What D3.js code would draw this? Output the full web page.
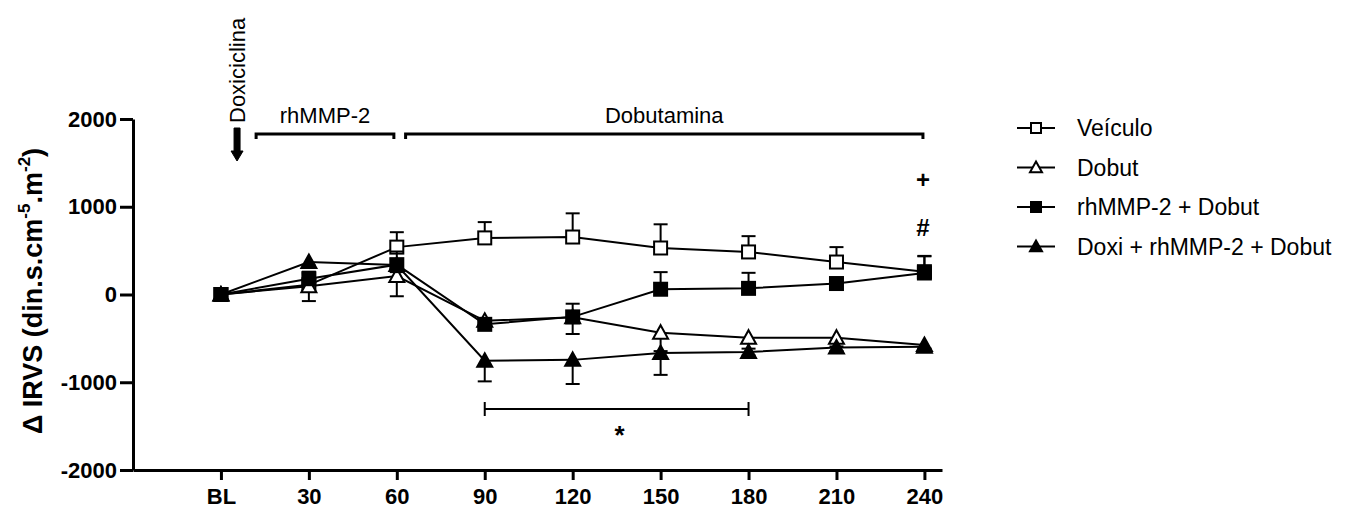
<!DOCTYPE html>
<html>
<head>
<meta charset="utf-8">
<script src="https://cdn.jsdelivr.net/npm/d3@7"></script>
<style>
  body { margin: 0; background: #fff; }
  text { font-family: "Liberation Sans", Arial, Helvetica, sans-serif; fill: #000; }
</style>
</head>
<body>
<div id="vis"></div>
<script>
// frame
const FRAME_WIDTH = 1354;
const FRAME_HEIGHT = 511;

// data (minutes, BL = 0)
const times = [0, 30, 60, 90, 120, 150, 180, 210, 240];
const tickLabels = ["BL", "30", "60", "90", "120", "150", "180", "210", "240"];
const yTicks = [-2000, -1000, 0, 1000, 2000];

const veiculo    = [0, 110, 540, 645, 655, 530, 485, 370, 260];
const veiculoErr = [0, 130, 170, 180, 270, 270, 180, 170, 180];
const dobut      = [0, 95, 210, -300, -260, -435, -492, -492, -575];
const dobutErr   = [0, 170, 230, 60, 190, 210, 125, 100, 40];
const rhmmp      = [0, 180, 340, -340, -255, 60, 70, 125, 245];
const rhmmpErr   = [0, 80, 150, 70, 150, 195, 177, 60, 190];
const doxi       = [0, 370, 335, -755, -745, -666, -655, -605, -595];
const doxiErr    = [0, 40, 80, 235, 275, 250, 40, 40, 30];

const seriesNames = ["Veículo", "Dobut", "rhMMP-2 + Dobut", "Doxi + rhMMP-2 + Dobut"];

const series = [
  {name: seriesNames[0], vals: veiculo, err: veiculoErr, shape: "square", fill: "#fff", dir: 1},
  {name: seriesNames[1], vals: dobut, err: dobutErr, shape: "triangle", fill: "#fff", dir: -1},
  {name: seriesNames[2], vals: rhmmp, err: rhmmpErr, shape: "square", fill: "#000", dir: 1},
  {name: seriesNames[3], vals: doxi, err: doxiErr, shape: "triangle", fill: "#000", dir: -1}
];

const svg = d3.select("#vis")
  .append("svg")
    .attr("width", FRAME_WIDTH)
    .attr("height", FRAME_HEIGHT);

// scales
const X_SCALE = d3.scaleLinear().domain([-30, 246]).range([133, 942]);
const Y_SCALE = d3.scaleLinear().domain([-2000, 2000]).range([470, 119]);

// axes
const xAxis = svg.append("g")
  .attr("transform", "translate(0," + Y_SCALE(-2000) + ")")
  .call(d3.axisBottom(X_SCALE)
    .tickValues(times)
    .tickFormat((d, i) => tickLabels[i])
    .tickSize(10)
    .tickSizeOuter(0));
xAxis.select(".domain").attr("stroke-width", 3);
xAxis.selectAll(".tick line").attr("stroke-width", 3);
xAxis.selectAll(".tick text")
  .attr("font-size", "22px").attr("font-weight", "bold")
  .attr("font-family", "Liberation Sans, Arial, sans-serif")
  .attr("y", 18);

const yAxis = svg.append("g")
  .attr("transform", "translate(" + X_SCALE(-30) + ",0)")
  .call(d3.axisLeft(Y_SCALE)
    .tickValues(yTicks)
    .tickFormat(d => String(d))
    .tickSize(13)
    .tickSizeOuter(0));
yAxis.select(".domain").attr("stroke-width", 3);
yAxis.selectAll(".tick line").attr("stroke-width", 3);
yAxis.selectAll(".tick text")
  .attr("font-size", "22px").attr("font-weight", "bold")
  .attr("font-family", "Liberation Sans, Arial, sans-serif")
  .attr("x", -16);

// y label
const yLab = svg.append("text")
  .attr("transform", "translate(42,291) rotate(-90)")
  .attr("text-anchor", "middle")
  .attr("font-size", "27px")
  .attr("font-weight", "bold");
yLab.append("tspan").text("Δ IRVS (din.s.cm");
yLab.append("tspan").attr("font-size", "17px").attr("dy", -12).text("-5");
yLab.append("tspan").attr("dy", 12).text(".m");
yLab.append("tspan").attr("font-size", "17px").attr("dy", -12).text("-2");
yLab.append("tspan").attr("dy", 12).text(")");

// markers
function marker(g, shape, fill, r) {
  if (shape === "square") {
    g.append("rect").attr("x", -r).attr("y", -r).attr("width", 2 * r).attr("height", 2 * r)
      .attr("fill", fill).attr("stroke", "#000").attr("stroke-width", 2);
  } else {
    const t = r + 1;
    g.append("path").attr("d", "M0," + (-t) + "L" + t + "," + (t * 0.8) + "L" + (-t) + "," + (t * 0.8) + "Z")
      .attr("fill", fill).attr("stroke", "#000").attr("stroke-width", 2);
  }
}

const line = d3.line()
  .x((d, i) => X_SCALE(times[i]))
  .y(d => Y_SCALE(d));

series.forEach(s => {
  const g = svg.append("g");
  g.append("path")
    .attr("d", line(s.vals))
    .attr("fill", "none").attr("stroke", "#000").attr("stroke-width", 2);

  // one-sided error bars
  s.vals.forEach((v, i) => {
    if (!s.err[i]) return;
    const x = X_SCALE(times[i]);
    const y2 = Y_SCALE(v + s.dir * s.err[i]);
    g.append("line").attr("x1", x).attr("x2", x).attr("y1", Y_SCALE(v)).attr("y2", y2)
      .attr("stroke", "#000").attr("stroke-width", 2);
    g.append("line").attr("x1", x - 7).attr("x2", x + 7).attr("y1", y2).attr("y2", y2)
      .attr("stroke", "#000").attr("stroke-width", 2);
  });

  s.vals.forEach((v, i) => {
    const m = g.append("g").attr("transform", "translate(" + X_SCALE(times[i]) + "," + Y_SCALE(v) + ")");
    marker(m, s.shape, s.fill, 6.5);
  });
});

// legend
const legend = svg.append("g").attr("transform", "translate(1017,128)");
series.forEach((s, i) => {
  const row = legend.append("g").attr("transform", "translate(0," + (i * 39.5) + ")");
  row.append("line").attr("x1", 0).attr("x2", 38).attr("y1", 0).attr("y2", 0)
    .attr("stroke", "#000").attr("stroke-width", 2);
  const m = row.append("g").attr("transform", "translate(19,0)");
  marker(m, s.shape, s.fill, 5);
  row.append("text").attr("x", 60).attr("y", 0).attr("dy", "0.35em")
    .attr("font-size", "23px").text(s.name);
});

// treatment annotations
const BRACKET_Y = 134;
function bracket(x1, x2, label) {
  svg.append("path")
    .attr("d", "M" + x1 + "," + (BRACKET_Y + 5) + "V" + BRACKET_Y + "H" + x2 + "V" + (BRACKET_Y + 5))
    .attr("fill", "none").attr("stroke", "#000").attr("stroke-width", 3);
  svg.append("text").attr("x", (x1 + x2) / 2).attr("y", BRACKET_Y - 11)
    .attr("text-anchor", "middle").attr("font-size", "22px").text(label);
}
bracket(X_SCALE(12), X_SCALE(59), "rhMMP-2");
bracket(X_SCALE(63), X_SCALE(239.5), "Dobutamina");

// doxiciclina arrow
const ax = X_SCALE(5.5);
svg.append("text")
  .attr("transform", "translate(" + (ax + 8) + ",123) rotate(-90)")
  .attr("font-size", "22px").text("Doxiciclina");
svg.append("path")
  .attr("d", "M" + (ax - 3) + ",128H" + (ax + 3) + "V151H" + (ax + 6) + "L" + ax + ",161L" + (ax - 6) + ",151H" + (ax - 3) + "Z")
  .attr("fill", "#000").attr("stroke", "#000").attr("stroke-width", 1);

// significance markers
svg.append("path")
  .attr("d", "M" + X_SCALE(90) + ",402V416M" + X_SCALE(90) + ",409H" + X_SCALE(180) + "M" + X_SCALE(180) + ",402V416")
  .attr("fill", "none").attr("stroke", "#000").attr("stroke-width", 2);
svg.append("text").attr("x", X_SCALE(136)).attr("y", 444)
  .attr("text-anchor", "middle").attr("font-size", "26px").attr("font-weight", "bold").text("*");
svg.append("text").attr("x", X_SCALE(239.5)).attr("y", 188)
  .attr("text-anchor", "middle").attr("font-size", "24px").attr("font-weight", "bold").text("+");
svg.append("text").attr("x", X_SCALE(239.5)).attr("y", 236)
  .attr("text-anchor", "middle").attr("font-size", "24px").attr("font-weight", "bold").text("#");
</script>
</body>
</html>
